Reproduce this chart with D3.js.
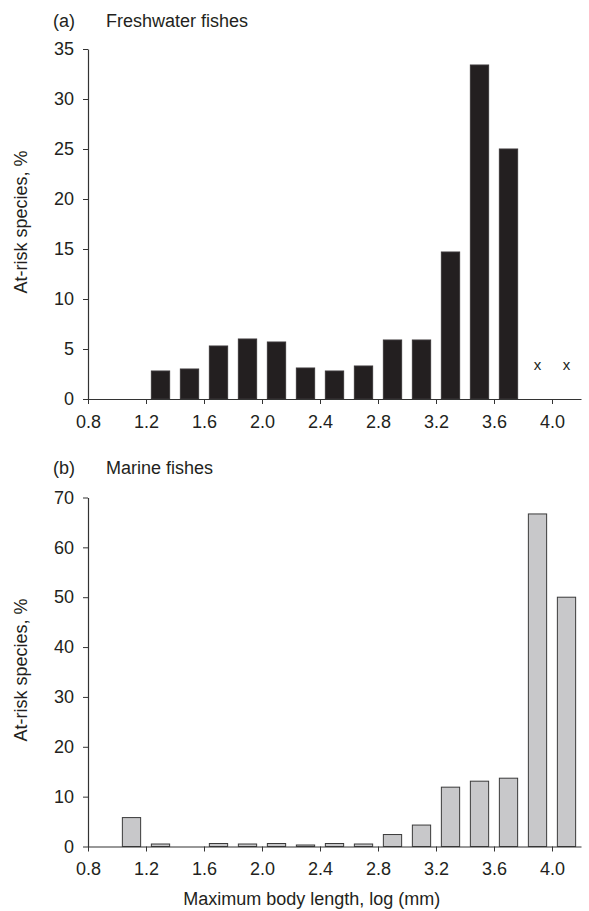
<!DOCTYPE html>
<html>
<head>
<meta charset="utf-8">
<script src="https://cdn.jsdelivr.net/npm/d3@7"></script>
<style>
  body { margin: 0; background: #fff; }
  text { font-family: "Liberation Sans", Arial, sans-serif; fill: #231f20; }
  .os path, .os line { stroke: #333; }
</style>
</head>
<body>
<div id="okvir"></div>
<script>
// podaci
const sredineRazreda = [1.1, 1.3, 1.5, 1.7, 1.9, 2.1, 2.3, 2.5, 2.7, 2.9, 3.1, 3.3, 3.5, 3.7, 3.9, 4.1]
const slatkovodne = [null, 2.8, 3.0, 5.3, 6.0, 5.7, 3.1, 2.8, 3.3, 5.9, 5.9, 14.7, 33.4, 25.0, null, null]
const slatkovodneBezPodataka = [3.9, 4.1]
const morske = [5.8, 0.5, 0, 0.6, 0.5, 0.6, 0.3, 0.6, 0.5, 2.4, 4.3, 11.9, 13.1, 13.7, 66.7, 50.0]
const xOznake = [0.8, 1.2, 1.6, 2.0, 2.4, 2.8, 3.2, 3.6, 4.0]
const yOznakeA = [0, 5, 10, 15, 20, 25, 30, 35]
const yOznakeB = [0, 10, 20, 30, 40, 50, 60, 70]

const sirina = 589
const visina = 911
const velicinaFonta = "18px"

const okvir = d3.select("#okvir")
  .append("svg")
    .attr("width", sirina)
    .attr("height", visina)

const xSkala = d3.scaleLinear()
  .domain([0.8, 4.2])
  .range([88, 581])

const sirinaStupca = (xSkala(1.2) - xSkala(1.0)) * 0.63

function crtajPanel(cfg) {
  const ySkala = d3.scaleLinear()
    .domain([0, d3.max(cfg.yOznake)])
    .range([cfg.dno, cfg.vrh])

  const podaci = sredineRazreda
    .map((c, i) => ({ c: c, v: cfg.vrijednosti[i] }))
    .filter(d => d.v != null && d.v > 0)

  okvir.append("g")
    .selectAll("rect")
    .data(podaci)
    .join("rect")
      .attr("x", d => xSkala(d.c) - sirinaStupca / 2)
      .attr("y", d => ySkala(d.v))
      .attr("width", sirinaStupca)
      .attr("height", d => ySkala(0) - ySkala(d.v))
      .attr("fill", cfg.boja)
      .attr("stroke", cfg.obrub)
      .attr("stroke-width", 1)

  const xOs = okvir.append("g")
    .attr("class", "os")
    .attr("transform", `translate(0, ${cfg.dno})`)
    .call(d3.axisBottom(xSkala).tickValues(xOznake).tickFormat(d3.format(".1f"))
      .tickSizeInner(5).tickSizeOuter(0).tickPadding(11))
  xOs.selectAll("text").style("font-size", velicinaFonta)

  const yOs = okvir.append("g")
    .attr("class", "os")
    .attr("transform", `translate(88, 0)`)
    .call(d3.axisLeft(ySkala).tickValues(cfg.yOznake)
      .tickSizeInner(5).tickSizeOuter(0).tickPadding(9))
  yOs.selectAll("text").style("font-size", velicinaFonta)
  xOs.select(".domain").attr("stroke-width", 1.2)
  yOs.select(".domain").attr("stroke-width", 1.2)

  okvir.append("text")
    .attr("x", 53)
    .attr("y", cfg.naslovY)
    .style("font-size", velicinaFonta)
    .text(cfg.oznaka)

  okvir.append("text")
    .attr("x", 106)
    .attr("y", cfg.naslovY)
    .style("font-size", velicinaFonta)
    .text(cfg.naslov)

  okvir.append("text")
    .attr("transform", `translate(26.5, ${(cfg.dno + cfg.vrh) / 2 - 2}) rotate(-90)`)
    .attr("text-anchor", "middle")
    .style("font-size", velicinaFonta)
    .text("At-risk species, %")

  return ySkala
}

const yA = crtajPanel({
  vrijednosti: slatkovodne,
  yOznake: yOznakeA,
  dno: 399,
  vrh: 49,
  boja: "#231f20",
  obrub: "#3a3738",
  oznaka: "(a)",
  naslov: "Freshwater fishes",
  naslovY: 27
})

okvir.append("g")
  .selectAll("text")
  .data(slatkovodneBezPodataka)
  .join("text")
    .attr("x", d => xSkala(d))
    .attr("y", yA(3.4))
    .attr("text-anchor", "middle")
    .attr("dy", "0.3em")
    .style("font-size", "15px")
    .text("x")

crtajPanel({
  vrijednosti: morske,
  yOznake: yOznakeB,
  dno: 846.5,
  vrh: 497.5,
  boja: "#c8c8ca",
  obrub: "#3a3a3a",
  oznaka: "(b)",
  naslov: "Marine fishes",
  naslovY: 474
})

okvir.append("text")
  .attr("x", 311.7)
  .attr("y", 905)
  .attr("text-anchor", "middle")
  .style("font-size", velicinaFonta)
  .text("Maximum body length, log (mm)")
</script>
</body>
</html>
